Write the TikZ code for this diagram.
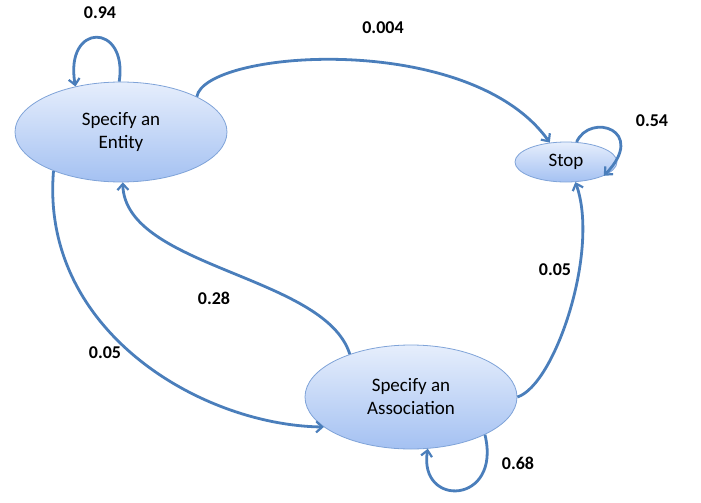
\documentclass[tikz,border=0pt]{standalone}
\usepackage{fontspec}
\setmainfont{Carlito}
\usepackage{tikz}
\usetikzlibrary{shapes.geometric,arrows.meta}

\definecolor{edgeblue}{HTML}{4A7EBB}
\definecolor{rimblue}{HTML}{7FA3D8}
\definecolor{topblue}{HTML}{E6EEFC}
\definecolor{botblue}{HTML}{A4C1F2}

\tikzset{
	state/.style={ellipse, draw=rimblue, line width=0.8pt, top color=topblue, bottom color=botblue, align=center, font=\fontsize{19}{23}\selectfont, inner sep=0pt},
	edge/.style={draw=edgeblue, line width=2.8pt, -{Straight Barb[length=6pt,width=11pt,line width=2.2pt]}},
	prob/.style={font=\bfseries\fontsize{18}{21}\selectfont}
}

\begin{document}
\begin{tikzpicture}[x=1pt,y=-1pt]
				\useasboundingbox (0,0) rectangle (701,503);

				% States
				\node[state, minimum width=212pt, minimum height=100pt] (entity) at (121,132) {Specify an\\Entity};
				\node[state, minimum width=102pt, minimum height=40pt] (stop) at (566,162) {Stop};
				\node[state, minimum width=212pt, minimum height=104pt] (assoc) at (411,397) {Specify an\\Association};

				% Self loops
				\draw[edge] (entity.92) .. controls (128,22) and (64,22) .. (entity.135);
				\draw[edge] (stop.62) .. controls (590,112) and (648,130) .. (stop.-20);
				\draw[edge] (assoc.-27) .. controls (502,505) and (418,508) .. (assoc.-72);

				% Transitions between states
				\draw[edge] (entity.25) .. controls (205,50) and (470,30) .. (stop.130);
				\draw[edge] (assoc.east) .. controls (555,385) and (600,250) .. (stop.-65);
				\draw[edge] (assoc.145) .. controls (325,275) and (125,268) .. (entity.-88);
				\draw[edge] (entity.-150) .. controls (40,330) and (200,425) .. (assoc.-161);

				% Probabilities
				\node[prob] (p94) at (100,13) {0.94};
				\node[prob] (p004) at (383,28) {0.004};
				\node[prob] (p54) at (652,121) {0.54};
				\node[prob] (p05r) at (555,270) {0.05};
				\node[prob] (p28) at (214,298) {0.28};
				\node[prob] (p05l) at (105,353) {0.05};
				\node[prob] (p68) at (518,463) {0.68};
\end{tikzpicture}
\end{document}
